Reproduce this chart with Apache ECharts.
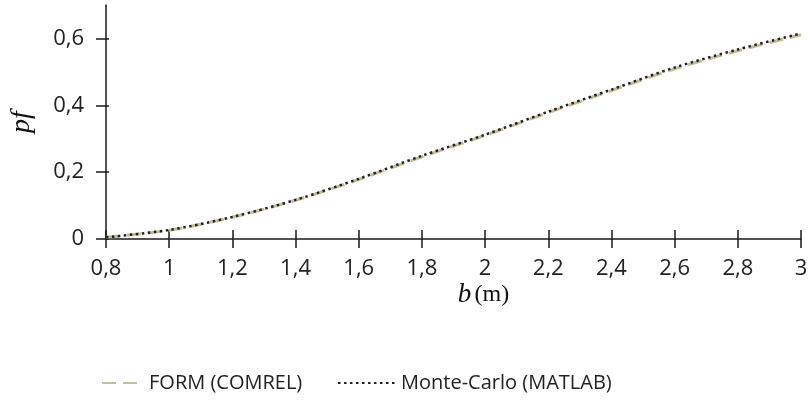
<!DOCTYPE html>
<html>
<head>
<meta charset="utf-8">
<script src="https://cdn.jsdelivr.net/npm/echarts@6/dist/echarts.min.js"></script>
<style>
  html, body { margin: 0; padding: 0; background: #fff; }
  #chart { width: 811px; height: 410px; }
</style>
</head>
<body>
<div id="chart"></div>
<script>
// Beam width b (m) and failure probability pf from both methods
const widths = [0.8, 1.0, 1.2, 1.4, 1.6, 1.8, 2.0, 2.2, 2.4, 2.6, 2.8, 3.0];
const pfForm = [0.005, 0.026, 0.065, 0.116, 0.178, 0.246, 0.310, 0.378, 0.444, 0.509, 0.563, 0.611];
const pfMonteCarlo = [0.005, 0.027, 0.066, 0.117, 0.180, 0.249, 0.312, 0.381, 0.447, 0.513, 0.567, 0.615];
const yTicks = [0, 0.2, 0.4, 0.6];

const pairs = (xs, ys) => xs.map((x, i) => [x, ys[i]]);
const comma = v => String(+v.toFixed(2)).replace('.', ',');

const font = '"Open Sans", sans-serif';
const axisColor = '#1a1a1a';

const gridBox = { left: 100, right: 10, top: 5, bottom: 171 };
const gridW = 811 - gridBox.left - gridBox.right;
const gridH = 410 - gridBox.top - gridBox.bottom;

const chart = echarts.init(document.getElementById('chart'), null, { renderer: 'canvas' });

const tickLine = { color: axisColor, width: 1.5 };

chart.setOption({
  animation: false,
  backgroundColor: '#fff',
  grid: Object.assign({ containLabel: false }, gridBox),
  xAxis: [
    {
      type: 'value', min: 0.8, max: 3, interval: 0.2,
      splitLine: { show: false },
      axisLine: { lineStyle: { color: axisColor, width: 1.5 } },
      axisTick: { show: true, inside: false, length: 9, lineStyle: tickLine },
      axisLabel: { formatter: comma, color: '#222', fontFamily: font, fontSize: 22, margin: 19 },
      name: '{i|b} {r|(m)}',
      nameLocation: 'middle',
      nameGap: 42,
      nameMoveOverlap: false,
      nameTextStyle: {
        padding: [0, 0, 0, 60],
        rich: {
          i: { fontFamily: '"Liberation Serif", serif', fontStyle: 'italic', fontSize: 27, color: '#111' },
          r: { fontFamily: '"Liberation Serif", serif', fontSize: 24, color: '#111' }
        }
      }
    },
    // upper half of the crossing x ticks
    {
      type: 'value', min: 0.8, max: 3, interval: 0.2,
      position: 'top', offset: -gridH,
      splitLine: { show: false },
      axisLine: { show: false },
      axisTick: { show: true, inside: false, length: 9, lineStyle: tickLine },
      axisLabel: { show: false }
    }
  ],
  yAxis: [
    {
      type: 'value', min: 0, max: 0.7,
      splitLine: { show: false },
      axisLine: { lineStyle: { color: axisColor, width: 1.5 } },
      axisTick: { show: true, inside: false, length: 10, customValues: yTicks, lineStyle: tickLine },
      axisLabel: { customValues: yTicks, formatter: comma, color: '#222', fontFamily: font, fontSize: 22, margin: 22 },
      name: 'pf',
      nameLocation: 'middle',
      nameGap: 70,
      nameRotate: 90,
      nameTextStyle: { fontFamily: '"Liberation Serif", serif', fontStyle: 'italic', fontSize: 28, color: '#111' }
    },
    // right half of the crossing y ticks
    {
      type: 'value', min: 0, max: 0.7,
      position: 'right', offset: -gridW,
      splitLine: { show: false },
      axisLine: { show: false },
      axisTick: { show: true, inside: false, length: 9, customValues: yTicks, lineStyle: tickLine },
      axisLabel: { show: false }
    }
  ],
  legend: [
    {
      data: ['FORM (COMREL)'],
      left: 96, top: 368,
      itemWidth: 42, itemHeight: 14, itemGap: 6,
      itemStyle: { opacity: 0 },
      textStyle: { fontFamily: font, fontSize: 20, color: '#222' }
    },
    {
      data: ['Monte-Carlo (MATLAB)'],
      left: 332, top: 368,
      itemWidth: 58, itemHeight: 14, itemGap: 6,
      itemStyle: { opacity: 0 },
      textStyle: { fontFamily: font, fontSize: 20, color: '#222' }
    }
  ],
  series: [
    {
      name: 'FORM (COMREL)',
      type: 'line',
      xAxisIndex: 0, yAxisIndex: 0,
      data: pairs(widths, pfForm),
      smooth: 0.3,
      symbol: 'none',
      itemStyle: { color: '#c4bd97' },
      lineStyle: { color: '#c4bd97', width: 3, type: [14, 7] }
    },
    {
      name: 'Monte-Carlo (MATLAB)',
      type: 'line',
      xAxisIndex: 0, yAxisIndex: 0,
      data: pairs(widths, pfMonteCarlo),
      smooth: 0.3,
      symbol: 'none',
      itemStyle: { color: '#222' },
      lineStyle: { color: '#222', width: 2.5, type: [2.5, 3.5] }
    }
  ]
});
</script>
</body>
</html>
